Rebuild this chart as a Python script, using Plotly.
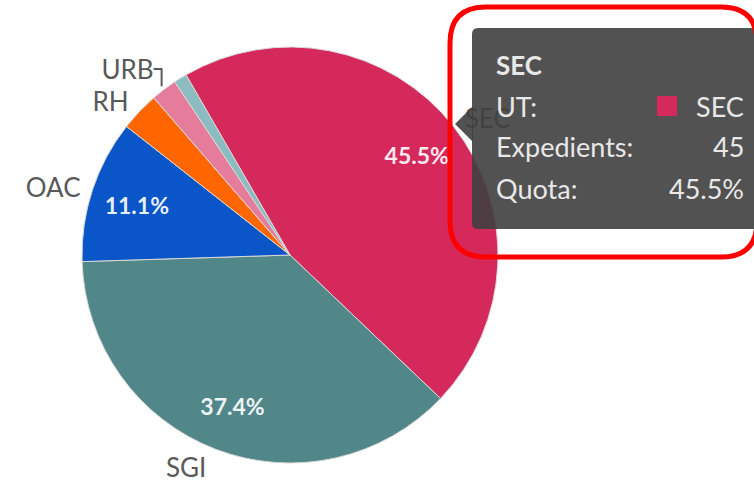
import plotly.graph_objects as go

# ---------------- data ----------------
categories = ["SEC", "SGI", "OAC", "RH", "URB", "ALT"]
expedients = [45, 37, 11, 3, 2, 1]
colors = ["#D5295B", "#52878A", "#0A55C8", "#FF6600", "#E67C9B", "#8CBCC0"]
outside_pos = ["outside", "outside", "outside", "outside", "outside", "none"]
inside_pos = ["inside", "inside", "inside", "none", "none", "none"]

tip_title = "SEC"
tip_rows = ["UT:", "Expedients:", "Quota:"]
tip_vals = ["SEC", "45", "45.5%"]

W, H = 754, 484
FONT = "Lato"


def px(x):
    return x / W


def py(y):
    return 1 - y / H


def rrect(x0, y0, x1, y1, r):
    pts = [
        f"M {px(x0 + r)},{py(y0)}",
        f"L {px(x1 - r)},{py(y0)}",
        f"Q {px(x1)},{py(y0)} {px(x1)},{py(y0 + r)}",
        f"L {px(x1)},{py(y1 - r)}",
        f"Q {px(x1)},{py(y1)} {px(x1 - r)},{py(y1)}",
        f"L {px(x0 + r)},{py(y1)}",
        f"Q {px(x0)},{py(y1)} {px(x0)},{py(y1 - r)}",
        f"L {px(x0)},{py(y0 + r)}",
        f"Q {px(x0)},{py(y0)} {px(x0 + r)},{py(y0)}",
        "Z",
    ]
    return " ".join(pts)


def dom(r):
    return dict(x=[px(cx - r), px(cx + r)], y=[py(cy + r), py(cy - r)])


cx, cy, R = 290, 255, 208
transparent = ["rgba(0,0,0,0)"] * len(categories)
common = dict(labels=categories, values=expedients, sort=False, direction="clockwise",
              rotation=330, hoverinfo="skip", showlegend=False, automargin=False)

fig = go.Figure()

# coloured slices
fig.add_trace(go.Pie(
    **common, domain=dom(R),
    marker=dict(colors=colors, line=dict(color="#d8d8d8", width=1)),
    textinfo="none",
))

# category labels outside the pie
fig.add_trace(go.Pie(
    **common, domain=dom(R + 4),
    marker=dict(colors=transparent, line=dict(width=0)),
    texttemplate="%{label}", textposition=outside_pos,
    outsidetextfont=dict(family=FONT, size=26, color="#595959"),
))

# percentages inside the slices
fig.add_trace(go.Pie(
    **common, domain=dom(R), hole=0.55,
    marker=dict(colors=transparent, line=dict(width=0)),
    texttemplate="%{percent:.1%}", textposition=inside_pos,
    insidetextorientation="horizontal",
    insidetextfont=dict(family=FONT, size=23, color="rgba(255,255,255,0.92)", weight="bold"),
))

shapes = []
# tooltip arrow + box
shapes.append(dict(type="path", xref="paper", yref="paper", layer="above",
                   path=f"M {px(473)},{py(106)} L {px(455)},{py(124)} L {px(473)},{py(142)} Z",
                   fillcolor="rgba(63,63,63,0.9)", line=dict(width=0)))
shapes.append(dict(type="path", xref="paper", yref="paper", layer="above",
                   path=rrect(472, 28, 762, 229, 6),
                   fillcolor="rgba(63,63,63,0.9)", line=dict(width=0)))
# red highlight outline
shapes.append(dict(type="path", xref="paper", yref="paper", layer="above",
                   path=rrect(450, 7, 757, 257, 36),
                   fillcolor="rgba(0,0,0,0)", line=dict(color="#FF0000", width=5)))
# colour swatch
shapes.append(dict(type="rect", xref="paper", yref="paper", layer="above",
                   x0=px(657), x1=px(677), y0=py(116), y1=py(96),
                   fillcolor=colors[0], line=dict(width=0)))

annotations = []
txt = "#e8e8e8"
annotations.append(dict(x=px(494), y=py(65), xref="paper", yref="paper", xanchor="left",
                        yanchor="middle", showarrow=False, text=f"<b>{tip_title}</b>",
                        font=dict(family=FONT, size=26, color=txt)))
row_y = [106, 147, 188]
for lab, val, yy in zip(tip_rows, tip_vals, row_y):
    annotations.append(dict(x=px(494), y=py(yy), xref="paper", yref="paper", xanchor="left",
                            yanchor="middle", showarrow=False, text=lab,
                            font=dict(family=FONT, size=27, color=txt)))
    annotations.append(dict(x=px(746), y=py(yy), xref="paper", yref="paper", xanchor="right",
                            yanchor="middle", showarrow=False, text=val,
                            font=dict(family=FONT, size=27, color=txt)))

fig.update_layout(
    width=W, height=H, margin=dict(l=0, r=0, t=0, b=0),
    paper_bgcolor="white", plot_bgcolor="white",
    shapes=shapes, annotations=annotations,
)

fig.write_html("out.html")
